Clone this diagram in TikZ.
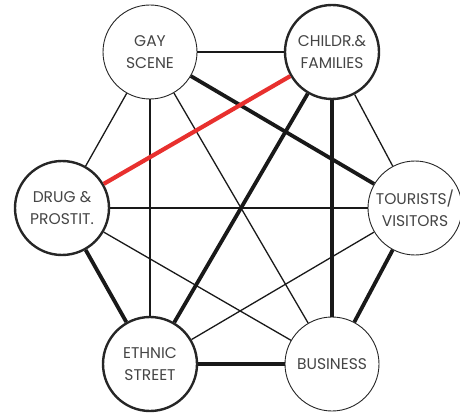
\documentclass[tikz,border=0pt]{standalone}
\usepackage{fontspec}
\setmainfont{Poppins}
\definecolor{inkgray}{HTML}{454545}
\definecolor{linkred}{HTML}{E8302E}
\begin{document}
\begin{tikzpicture}[x=1pt,y=-1pt,
  actor/.style={circle,draw=black!85,fill=white,minimum size=94pt,inner sep=0pt,
    align=center,text=inkgray,font=\fontsize{15.5}{22}\selectfont},
  strong/.style={line width=2.4pt},
  weak/.style={line width=0.9pt},
  thinlink/.style={line width=1.3pt,draw=black!90},
  thicklink/.style={line width=3.8pt,draw=black!90},
  redlink/.style={line width=4.2pt,draw=linkred}]
\useasboundingbox (0,0) rectangle (460,414);
% actors
\node[actor,weak]   (gay) at (150,52)  {GAY\\SCENE};
\node[actor,strong] (chi) at (332,52)  {CHILDR.\&\\FAMILIES};
\node[actor,strong] (dru) at (62,208)  {DRUG \&\\PROSTIT.};
\node[actor,weak]   (tou) at (415,208) {TOURISTS/\\VISITORS};
\node[actor,strong] (eth) at (150,364) {ETHNIC\\STREET};
\node[actor,weak]   (bus) at (332,364) {BUSINESS};
% relations
\draw[thinlink] (gay) -- (chi);
\draw[thinlink] (gay) -- (dru);
\draw[thinlink] (gay) -- (eth);
\draw[thinlink] (gay) -- (bus);
\draw[thinlink] (chi) -- (tou);
\draw[thinlink] (dru) -- (tou);
\draw[thinlink] (dru) -- (bus);
\draw[thinlink] (tou) -- (eth);
\draw[thicklink] (gay) -- (tou);
\draw[thicklink] (chi) -- (eth);
\draw[thicklink] (chi) -- (bus);
\draw[thicklink] (dru) -- (eth);
\draw[thicklink] (tou) -- (bus);
\draw[thicklink] (eth) -- (bus);
\draw[redlink] (chi) -- (dru);
\end{tikzpicture}
\end{document}
